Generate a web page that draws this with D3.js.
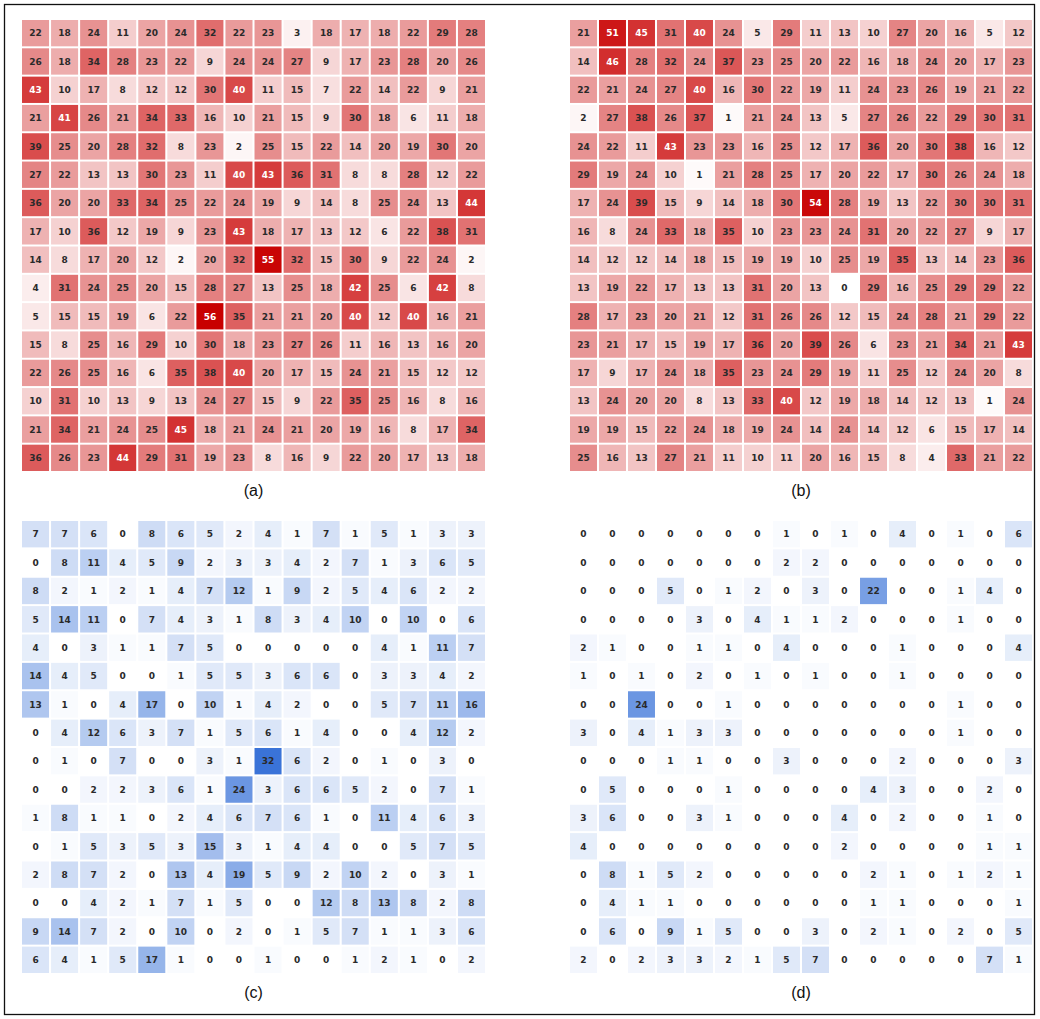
<!DOCTYPE html>
<html>
<head>
<meta charset="utf-8">
<script src="https://cdn.jsdelivr.net/npm/d3@7"></script>
<style>
  html, body { margin: 0; padding: 0; background: #fff; }
  svg { display: block; }
</style>
</head>
<body>
<svg id="chart" width="1040" height="1019"></svg>
<script>
const panelLabels = ["(a)", "(b)", "(c)", "(d)"];
const rowIndex = d3.range(16);
const colIndex = d3.range(16);

const dataA = [
  [22,18,24,11,20,24,32,22,23,3,18,17,18,22,29,28],
  [26,18,34,28,23,22,9,24,24,27,9,17,23,28,20,26],
  [43,10,17,8,12,12,30,40,11,15,7,22,14,22,9,21],
  [21,41,26,21,34,33,16,10,21,15,9,30,18,6,11,18],
  [39,25,20,28,32,8,23,2,25,15,22,14,20,19,30,20],
  [27,22,13,13,30,23,11,40,43,36,31,8,8,28,12,22],
  [36,20,20,33,34,25,22,24,19,9,14,8,25,24,13,44],
  [17,10,36,12,19,9,23,43,18,17,13,12,6,22,38,31],
  [14,8,17,20,12,2,20,32,55,32,15,30,9,22,24,2],
  [4,31,24,25,20,15,28,27,13,25,18,42,25,6,42,8],
  [5,15,15,19,6,22,56,35,21,21,20,40,12,40,16,21],
  [15,8,25,16,29,10,30,18,23,27,26,11,16,13,16,20],
  [22,26,25,16,6,35,38,40,20,17,15,24,21,15,12,12],
  [10,31,10,13,9,13,24,27,15,9,22,35,25,16,8,16],
  [21,34,21,24,25,45,18,21,24,21,20,19,16,8,17,34],
  [36,26,23,44,29,31,19,23,8,16,9,22,20,17,13,18]
];

const dataB = [
  [21,51,45,31,40,24,5,29,11,13,10,27,20,16,5,12],
  [14,46,28,32,24,37,23,25,20,22,16,18,24,20,17,23],
  [22,21,24,27,40,16,30,22,19,11,24,23,26,19,21,22],
  [2,27,38,26,37,1,21,24,13,5,27,26,22,29,30,31],
  [24,22,11,43,23,23,16,25,12,17,36,20,30,38,16,12],
  [29,19,24,10,1,21,28,25,17,20,22,17,30,26,24,18],
  [17,24,39,15,9,14,18,30,54,28,19,13,22,30,30,31],
  [16,8,24,33,18,35,10,23,23,24,31,20,22,27,9,17],
  [14,12,12,14,18,15,19,19,10,25,19,35,13,14,23,36],
  [13,19,22,17,13,13,31,20,13,0,29,16,25,29,29,22],
  [28,17,23,20,21,12,31,26,26,12,15,24,28,21,29,22],
  [23,21,17,15,19,17,36,20,39,26,6,23,21,34,21,43],
  [17,9,17,24,18,35,23,24,29,19,11,25,12,24,20,8],
  [13,24,20,20,8,13,33,40,12,19,18,14,12,13,1,24],
  [19,19,15,22,24,18,19,24,14,24,14,12,6,15,17,14],
  [25,16,13,27,21,11,10,11,20,16,15,8,4,33,21,22]
];

const dataC = [
  [7,7,6,0,8,6,5,2,4,1,7,1,5,1,3,3],
  [0,8,11,4,5,9,2,3,3,4,2,7,1,3,6,5],
  [8,2,1,2,1,4,7,12,1,9,2,5,4,6,2,2],
  [5,14,11,0,7,4,3,1,8,3,4,10,0,10,0,6],
  [4,0,3,1,1,7,5,0,0,0,0,0,4,1,11,7],
  [14,4,5,0,0,1,5,5,3,6,6,0,3,3,4,2],
  [13,1,0,4,17,0,10,1,4,2,0,0,5,7,11,16],
  [0,4,12,6,3,7,1,5,6,1,4,0,0,4,12,2],
  [0,1,0,7,0,0,3,1,32,6,2,0,1,0,3,0],
  [0,0,2,2,3,6,1,24,3,6,6,5,2,0,7,1],
  [1,8,1,1,0,2,4,6,7,6,1,0,11,4,6,3],
  [0,1,5,3,5,3,15,3,1,4,4,0,0,5,7,5],
  [2,8,7,2,0,13,4,19,5,9,2,10,2,0,3,1],
  [0,0,4,2,1,7,1,5,0,0,12,8,13,8,2,8],
  [9,14,7,2,0,10,0,2,0,1,5,7,1,1,3,6],
  [6,4,1,5,17,1,0,0,1,0,0,1,2,1,0,2]
];

const dataD = [
  [0,0,0,0,0,0,0,1,0,1,0,4,0,1,0,6],
  [0,0,0,0,0,0,0,2,2,0,0,0,0,0,0,0],
  [0,0,0,5,0,1,2,0,3,0,22,0,0,1,4,0],
  [0,0,0,0,3,0,4,1,1,2,0,0,0,1,0,0],
  [2,1,0,0,1,1,0,4,0,0,0,1,0,0,0,4],
  [1,0,1,0,2,0,1,0,1,0,0,1,0,0,0,0],
  [0,0,24,0,0,1,0,0,0,0,0,0,0,1,0,0],
  [3,0,4,1,3,3,0,0,0,0,0,0,0,1,0,0],
  [0,0,0,1,1,0,0,3,0,0,0,2,0,0,0,3],
  [0,5,0,0,0,1,0,0,0,0,4,3,0,0,2,0],
  [3,6,0,0,3,1,0,0,0,4,0,2,0,0,1,0],
  [4,0,0,0,0,0,0,0,0,2,0,0,0,0,1,1],
  [0,8,1,5,2,0,0,0,0,0,2,1,0,1,2,1],
  [0,4,1,1,0,0,0,0,0,0,1,1,0,0,0,1],
  [0,6,0,9,1,5,0,0,3,0,2,1,0,2,0,5],
  [2,0,2,3,3,2,1,5,7,0,0,0,0,0,7,1]
];

const svg = d3.select("#chart");

// outer frame
svg.append("rect")
  .attr("x", 4.5).attr("y", 4.5)
  .attr("width", 1030).attr("height", 1010)
  .attr("fill", "none").attr("stroke", "#111").attr("stroke-width", 1.3);

const redScale = d3.scaleLinear().domain([0, 56]).range(["#ffffff", "#c80000"]).interpolate(d3.interpolateRgb);
const blueScale = d3.scaleLinear().domain([0, 32]).range(["#ffffff", "#3a73d8"]).interpolate(d3.interpolateRgb);

const panels = [
  { data: dataA, label: panelLabels[0], x0: 22, x1: 485, y0: 20, y1: 471, color: redScale, whiteAt: 40 },
  { data: dataB, label: panelLabels[1], x0: 570, x1: 1032, y0: 20, y1: 471, color: redScale, whiteAt: 40 },
  { data: dataC, label: panelLabels[2], x0: 22, x1: 485, y0: 521, y1: 973, color: blueScale, whiteAt: 999 },
  { data: dataD, label: panelLabels[3], x0: 570, x1: 1032, y0: 521, y1: 973, color: blueScale, whiteAt: 999 }
];

panels.forEach(p => {
  const x = d3.scaleBand().domain(colIndex).range([p.x0, p.x1]).paddingInner(0.07);
  const y = d3.scaleBand().domain(rowIndex).range([p.y0, p.y1]).paddingInner(0.07);
  const g = svg.append("g");
  const cells = [];
  p.data.forEach((row, r) => row.forEach((v, c) => cells.push({ r, c, v })));

  g.selectAll("rect.cell").data(cells).join("rect")
    .attr("class", "cell")
    .attr("x", d => x(d.c))
    .attr("y", d => y(d.r))
    .attr("width", x.bandwidth())
    .attr("height", y.bandwidth())
    .attr("fill", d => p.color(d.v));

  g.selectAll("text.val").data(cells).join("text")
    .attr("class", "val")
    .attr("x", d => x(d.c) + x.bandwidth() / 2)
    .attr("y", d => y(d.r) + y.bandwidth() / 2)
    .attr("dy", "0.36em")
    .attr("text-anchor", "middle")
    .attr("font-family", "'DejaVu Sans', sans-serif")
    .attr("font-weight", "bold")
    .attr("font-size", 9)
    .attr("fill", d => d.v >= p.whiteAt ? "#ffffff" : "#2a2a2a")
    .text(d => d.v);

  svg.append("text")
    .attr("x", (p.x0 + p.x1) / 2)
    .attr("y", p.y1 + 25)
    .attr("text-anchor", "middle")
    .attr("font-family", "'Liberation Sans', Arial, sans-serif")
    .attr("font-size", 16)
    .attr("fill", "#111")
    .text(p.label);
});
</script>
</body>
</html>
